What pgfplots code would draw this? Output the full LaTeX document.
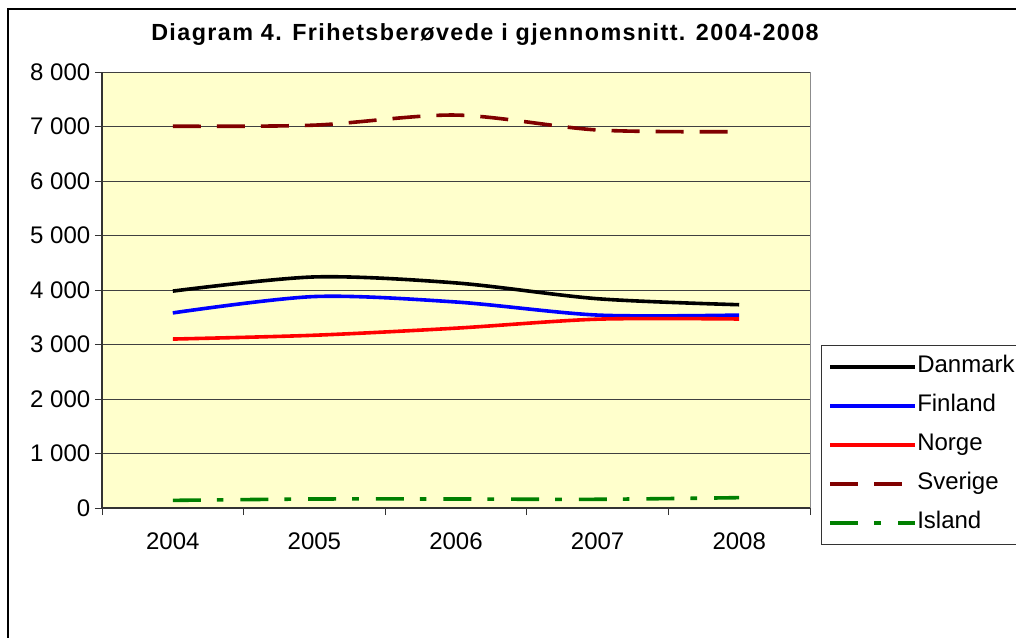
\documentclass[border=0pt]{standalone}
\usepackage{fontspec}
\setmainfont{Liberation Sans}
\newfontfamily\titlefont[LetterSpace=6]{Liberation Sans}
\usepackage{pgfplots}
\pgfplotsset{compat=1.18}
\definecolor{bgyellow}{RGB}{255,255,204}
\definecolor{sverige}{RGB}{128,0,0}
\definecolor{island}{RGB}{0,128,0}

\begin{document}
\begin{tikzpicture}
\useasboundingbox (0,0) rectangle (762pt,-478.5pt);
\clip (0,0) rectangle (762pt,-478.5pt);
\draw[line width=1.5pt] (6pt,-6.75pt) rectangle (800pt,-520pt);
\node[anchor=base, inner sep=0pt, font=\titlefont\bfseries\fontsize{17.5}{21}\selectfont] at (363.75pt,-30.5pt) {Diagram 4. Frihetsberøvede i gjennomsnitt. 2004-2008};
\begin{axis}[
  at={(76.5pt,-381pt)}, anchor=south west,
  width=531pt, height=327pt, scale only axis,
  xmin=-0.5, xmax=4.5, ymin=0, ymax=8000,
  axis lines=left, axis line style={-, draw=black!80, line width=1pt},
  axis background/.style={fill=bgyellow, draw=black!45, line width=0.75pt},
  tick align=outside, major tick length=5.25pt,
  tick style={draw=black!80, line width=0.75pt},
  xtick={-0.5,0.5,...,4.5}, xticklabels={},
  extra x ticks={0,1,2,3,4},
  extra x tick labels={2004,2005,2006,2007,2008},
  extra x tick style={major tick length=0pt},
  ytick={0,1000,...,8000},
  yticklabels={0,1 000,2 000,3 000,4 000,5 000,6 000,7 000,8 000},
  scaled y ticks=false,
  ymajorgrids, major grid style={draw=black!75, line width=0.6pt},
  ticklabel style={font=\fontsize{18}{21}\selectfont},
  xticklabel style={yshift=-15pt},
  legend cell align=left,
  legend image code/.code={\draw[#1] (0pt,0pt) -- (63.75pt,0pt);},
  legend style={at={(1.0155,0.3739)}, anchor=north west, draw=black!80, line width=1pt, fill=white,
    inner xsep=5.25pt, inner ysep=7.45pt, font=\fontsize{18}{21}\selectfont, row sep=12.25pt,
    nodes={inner sep=0pt, text height=13pt, text depth=4pt},
    /tikz/every even column/.append style={column sep=6pt}},
]
\addplot[black, line width=2.7pt, smooth] coordinates {(0,3980) (1,4240) (2,4130) (3,3840) (4,3730)};
\addlegendentry{Danmark}
\addplot[blue, line width=2.7pt, smooth] coordinates {(0,3580) (1,3880) (2,3780) (3,3540) (4,3540)};
\addlegendentry{Finland}
\addplot[red, line width=2.7pt, smooth] coordinates {(0,3100) (1,3170) (2,3300) (3,3465) (4,3468)};
\addlegendentry{Norge}
\addplot[sverige, line width=2.7pt, smooth, dash pattern=on 21pt off 12pt] coordinates {(0,7005) (1,7025) (2,7210) (3,6936) (4,6905)};
\addlegendentry{Sverige}
\addplot[island, line width=2.7pt, smooth, dash pattern=on 21pt off 12pt on 5pt off 12.75pt] coordinates {(0,140) (1,165) (2,165) (3,160) (4,190)};
\addlegendentry{Island}
\end{axis}
\end{tikzpicture}
\end{document}
